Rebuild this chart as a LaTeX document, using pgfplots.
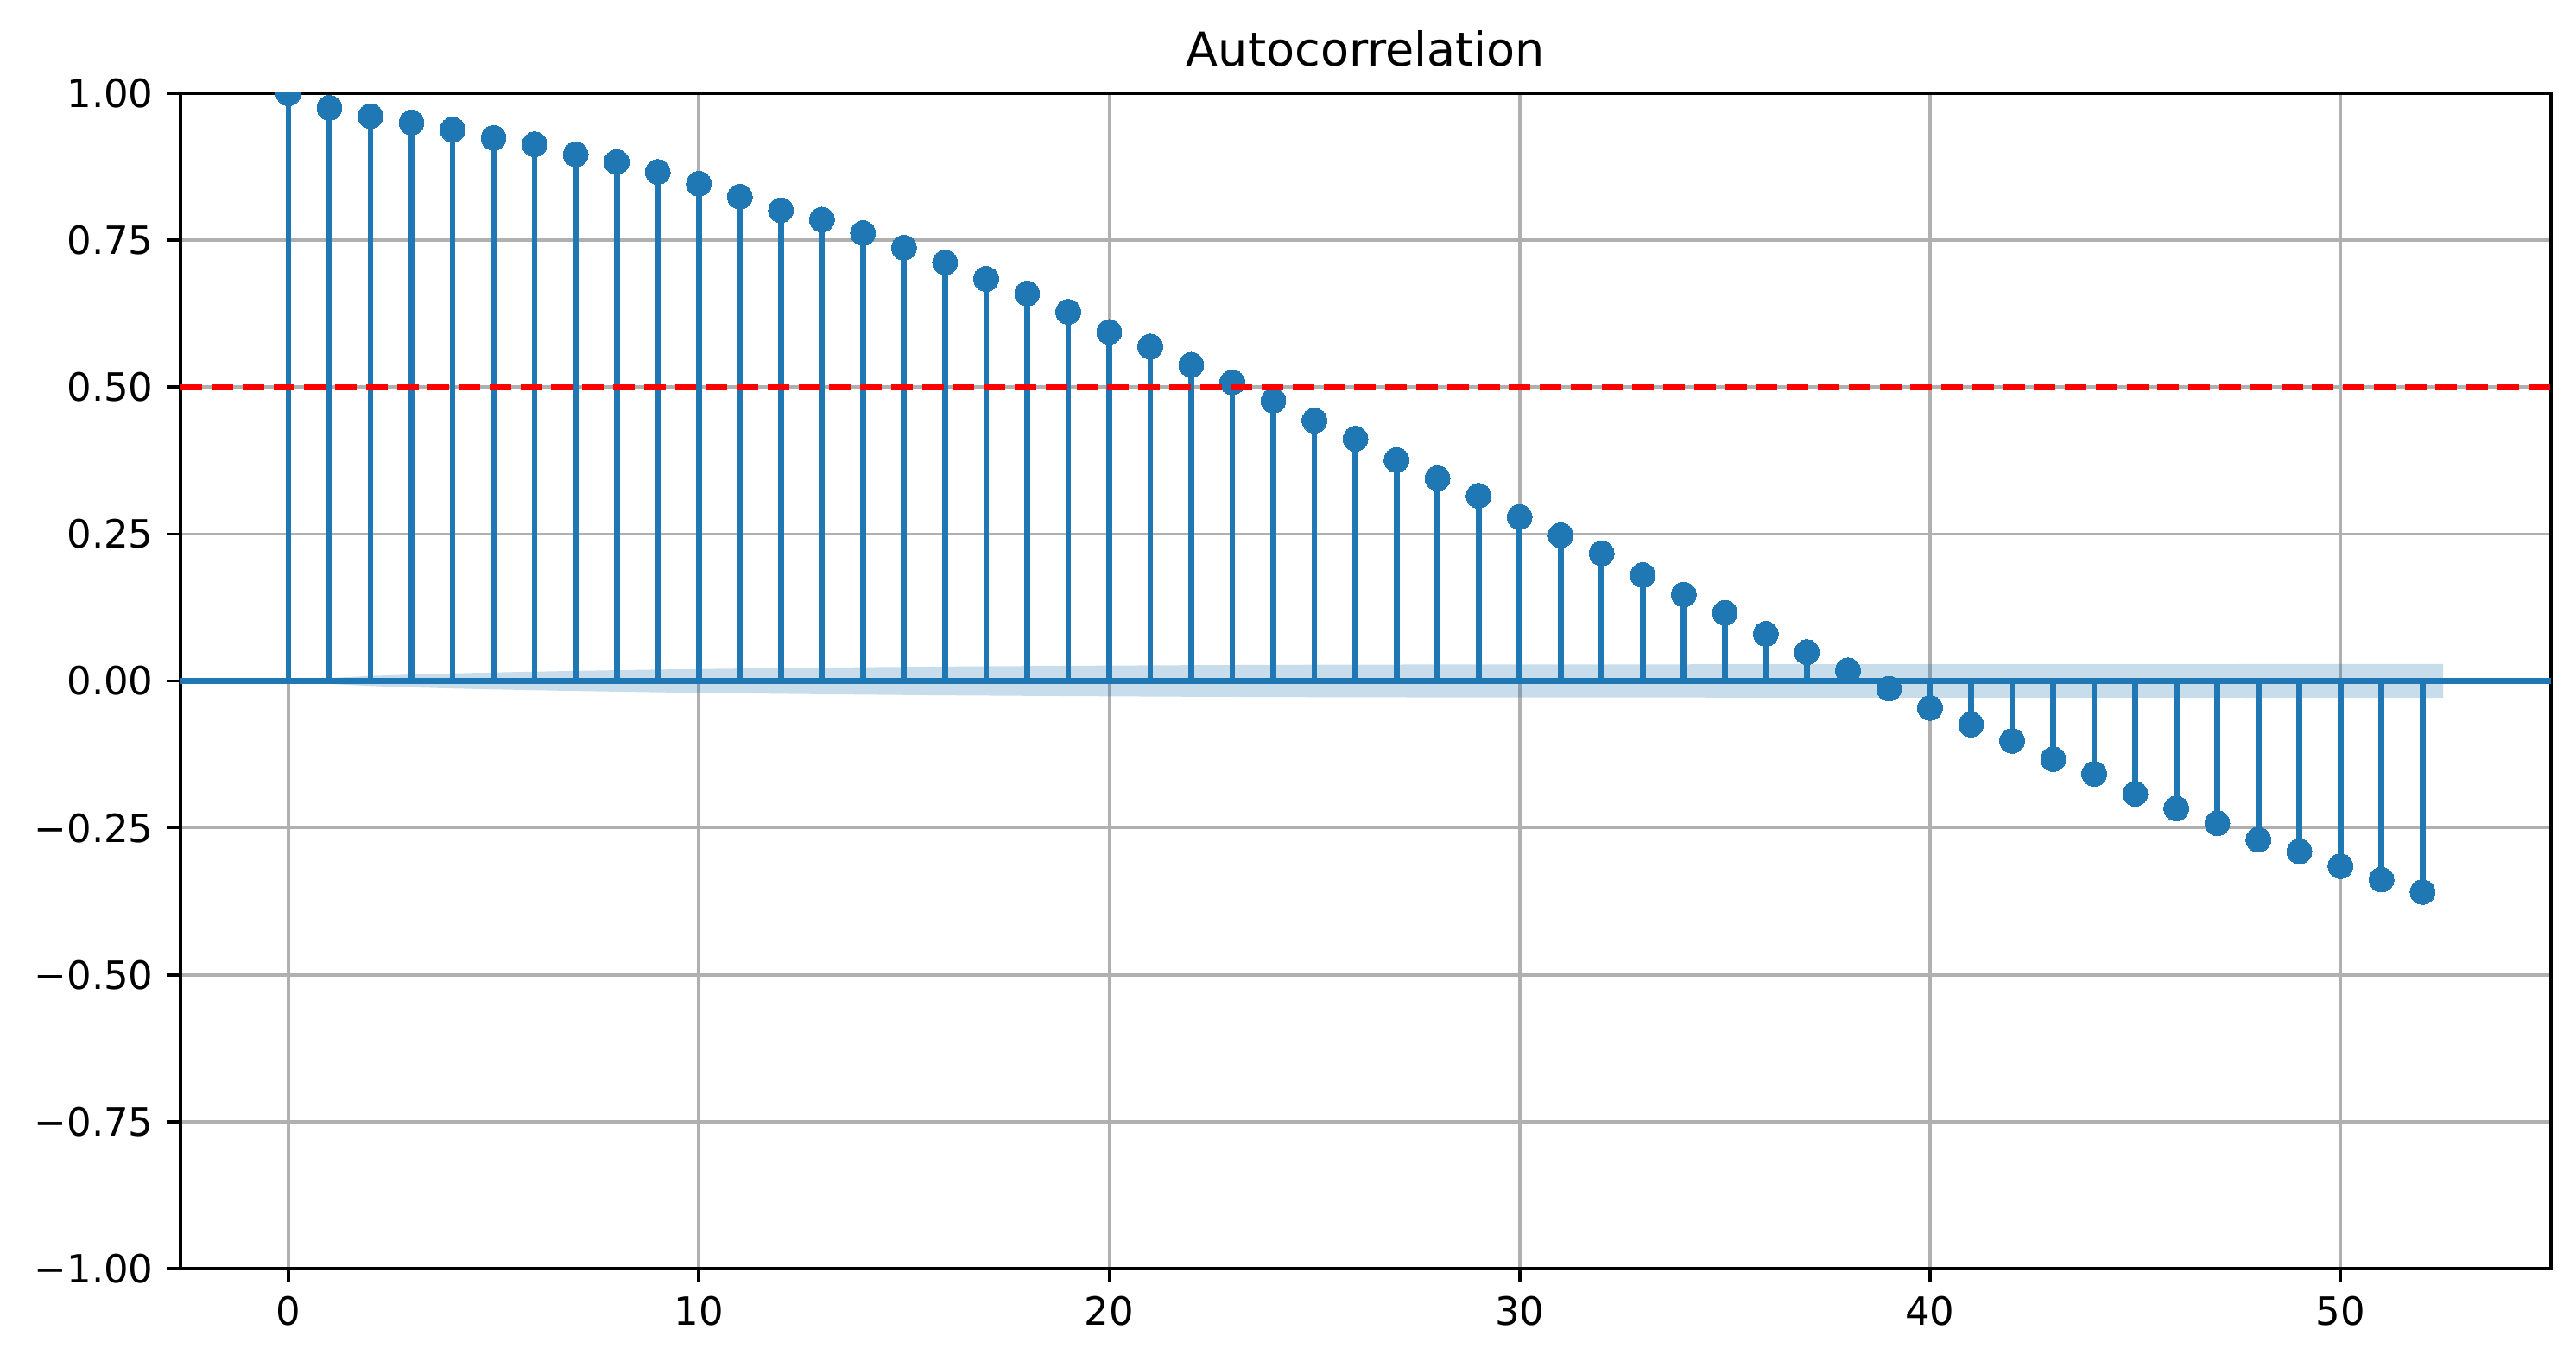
\documentclass[border=0pt]{standalone}
\usepackage{fontspec}
\setmainfont{DejaVu Sans}
\usepackage{pgfplots}
\pgfplotsset{compat=1.18}
\definecolor{cblue}{RGB}{31,119,180}
\definecolor{gridgray}{RGB}{176,176,176}

\begin{document}
\begin{tikzpicture}
\begin{axis}[
  name=ax,
  scale only axis,
  width=610pt, height=302.5pt,
  xmin=-2.625, xmax=55.125,
  ymin=-1, ymax=1,
  xtick={0,10,20,30,40,50},
  ytick={-1,-0.75,-0.5,-0.25,0,0.25,0.5,0.75,1},
  yticklabels={−1.00,−0.75,−0.50,−0.25,0.00,0.25,0.50,0.75,1.00},
  /pgf/number format/assume math mode=true,
  tick label style={font=\fontsize{10}{12}\selectfont},
  xtick pos=bottom, ytick pos=left,
  tick align=outside,
  major tick length=3.5pt,
  tick style={black, line width=0.8pt},
  axis line style={black, line width=0.8pt},
  grid=major,
  major grid style={gridgray, line width=0.8pt},
  title={Autocorrelation},
  title style={font=\fontsize{12}{14}\selectfont, at={(0.5,1)}, anchor=base, yshift=1pt},
  clip marker paths=true,
]
% confidence band
\addplot[draw=none, fill=cblue, fill opacity=0.25] coordinates {
  (-0.5,0) (1,0.0050) (2,0.0085) (3,0.0109) (4,0.0128) (5,0.0144) (6,0.0158)
  (7,0.0171) (8,0.0182) (9,0.0193) (10,0.0202) (12,0.0219) (14,0.0233)
  (16,0.0245) (18,0.0254) (20,0.0262) (22,0.0269) (24,0.0274) (26,0.0278)
  (28,0.0280) (30,0.0282) (35,0.0283) (40,0.0284) (45,0.0285) (50,0.0288)
  (52.5,0.0290)
  (52.5,-0.0290) (50,-0.0288) (45,-0.0285) (40,-0.0284) (35,-0.0283)
  (30,-0.0282) (28,-0.0280) (26,-0.0278) (24,-0.0274) (22,-0.0269)
  (20,-0.0262) (18,-0.0254) (16,-0.0245) (14,-0.0233) (12,-0.0219)
  (10,-0.0202) (9,-0.0193) (8,-0.0182) (7,-0.0171) (6,-0.0158) (5,-0.0144)
  (4,-0.0128) (3,-0.0109) (2,-0.0085) (1,-0.0050) (-0.5,0)
} -- cycle;
% zero line
\addplot[cblue, line width=1.5pt] coordinates {(-2.625,0) (55.125,0)};
% ACF stems
\addplot[ycomb, cblue, line width=1.5pt, mark=*, mark size=3.2pt,
  mark options={fill=cblue, draw=cblue, line width=0pt}] coordinates {
  (0,1.000) (1,0.975) (2,0.961) (3,0.950) (4,0.938) (5,0.924) (6,0.913)
  (7,0.896) (8,0.883) (9,0.866) (10,0.846) (11,0.824) (12,0.801) (13,0.785)
  (14,0.762) (15,0.737) (16,0.712) (17,0.684) (18,0.659) (19,0.628)
  (20,0.594) (21,0.569) (22,0.538) (23,0.508) (24,0.477) (25,0.443)
  (26,0.412) (27,0.376) (28,0.345) (29,0.315) (30,0.279) (31,0.248)
  (32,0.217) (33,0.180) (34,0.147) (35,0.116) (36,0.080) (37,0.049)
  (38,0.018) (39,-0.013) (40,-0.046) (41,-0.074) (42,-0.102) (43,-0.133)
  (44,-0.158) (45,-0.192) (46,-0.217) (47,-0.242) (48,-0.270) (49,-0.290)
  (50,-0.315) (51,-0.338) (52,-0.359)
};
% threshold
\addplot[red, line width=1.5pt, dash pattern=on 5.55pt off 2.4pt] coordinates {(-2.625,0.5) (55.125,0.5)};
\end{axis}
\path (-46.5pt,-22pt) rectangle (616.5pt,326.5pt);
\end{tikzpicture}
\end{document}
